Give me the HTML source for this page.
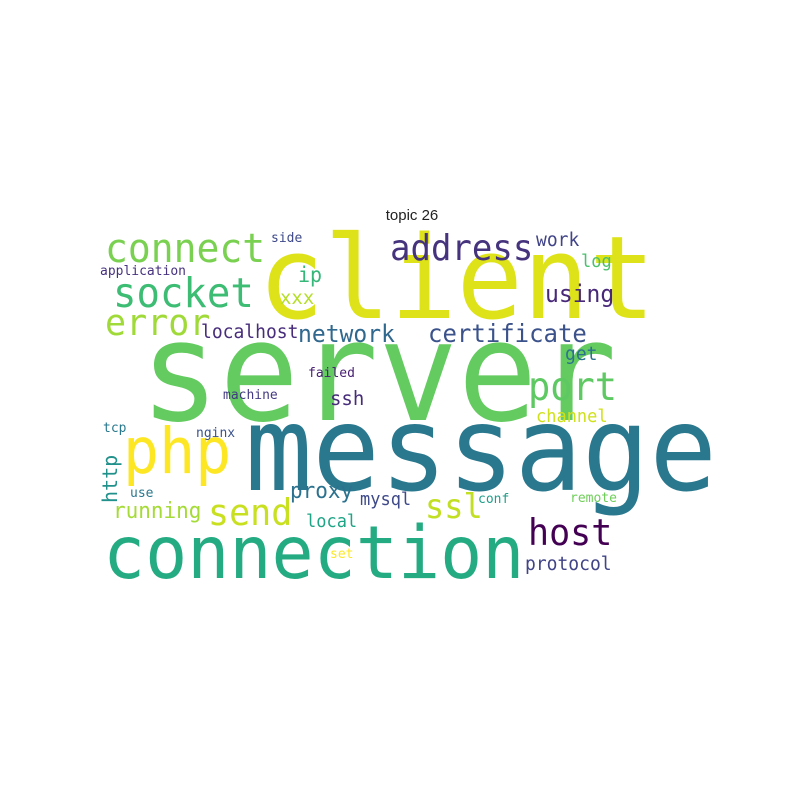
<!DOCTYPE html>
<html><head><meta charset="utf-8">
<style>
html,body{margin:0;padding:0;background:#fff;}
svg{display:block;}
.w{font-family:"DejaVu Sans Mono","Liberation Mono",monospace;}
</style></head>
<body>
<svg id="cloud" width="800" height="800" viewBox="0 0 800 800">
<rect width="800" height="800" fill="#fff"/>
<text x="412" y="220" text-anchor="middle" font-family="Liberation Sans, sans-serif" font-size="15" fill="#222">topic 26</text>
</svg>
<script>
const words = ["server","client","message","connection","connect","socket","error","php","send","running","http","address","ip","xxx","localhost","network","certificate","using","work","log","side","application","port","get","failed","machine","ssh","channel","tcp","nginx","use","proxy","mysql","ssl","conf","remote","local","host","set","protocol"];
const sizes = [132,110,112,70,38,39,35,60,35,21,20,34,20,19,18,23,24,23,18,17,13,13,37,18,13,13,19,17,13,13,13,21,17,32,13,13,17,35,13,18];
const colors = ["#63cb5f","#dde318","#2a788e","#25ab82","#7ad151","#3dbc74","#a0da39","#fde725","#c8e020","#a5db36","#21918c","#46337e","#35b779","#b5de2b","#472d7b","#31688e","#3b528b","#482878","#414487","#4ac16d","#3e4989","#46327e","#5ec962","#2c728e","#482173","#443983","#472c7a","#d0e11c","#29798e","#3b528b","#2a788e","#2c728e","#3e4a89","#c2df23","#1f9e89","#6ece58","#20a486","#440154","#fde725","#414487"];
// layout: [x, baseline y, rotated]
const layout = [[140,420,0],[258,318,0],[245,490,0],[103,578,0],[105,262,0],[113,307,0],[105,335,0],[123,473,0],[208,525,0],[113,518,0],[117,503,1],[390,260,0],[298,282,0],[280,304,0],[201,338,0],[298,342,0],[428,342,0],[545,302,0],[536,246,0],[581,267,0],[271,242,0],[100,275,0],[528,400,0],[565,360,0],[308,377,0],[223,399,0],[330,405,0],[536,422,0],[103,432,0],[196,437,0],[130,497,0],[290,498,0],[360,505,0],[425,518,0],[478,503,0],[570,502,0],[306,527,0],[528,545,0],[330,558,0],[525,570,0]];
const svg = document.getElementById('cloud');
const NS = 'http://www.w3.org/2000/svg';
for (let i = 0; i < words.length; i++) {
  const t = document.createElementNS(NS, 'text');
  t.setAttribute('class', 'w');
  t.setAttribute('font-size', sizes[i]);
  t.setAttribute('fill', colors[i]);
  const p = layout[i];
  if (p[2]) {
    t.setAttribute('transform', 'translate(' + p[0] + ',' + p[1] + ') rotate(-90)');
  } else {
    t.setAttribute('transform', 'translate(' + p[0] + ',' + p[1] + ') scale(1,1.05)');
  }
  t.textContent = words[i];
  
  
  svg.appendChild(t);
}
</script>
</body></html>
